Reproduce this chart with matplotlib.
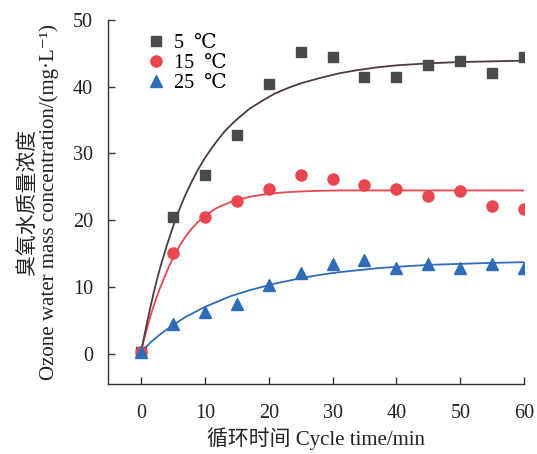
import matplotlib
matplotlib.use("Agg")
import matplotlib.pyplot as plt

plt.rcParams['font.family'] = ['Liberation Serif', 'DejaVu Serif', 'Noto Sans CJK SC']

# measured points
t = [0, 5, 10, 15, 20, 25, 30, 35, 40, 45, 50, 55, 60]
c5 = [0.3, 20.5, 26.7, 32.7, 40.4, 45.2, 44.4, 41.5, 41.5, 43.3, 43.8, 42.0, 44.4]
c15 = [0.3, 15.1, 20.5, 22.9, 24.7, 26.7, 26.2, 25.2, 24.7, 23.6, 24.3, 22.1, 21.7]
c25 = [0.3, 4.4, 6.2, 7.4, 10.3, 12.1, 13.4, 14.0, 12.8, 13.4, 12.8, 13.4, 12.8]

# fitted curves
fit_t = [0, 0.5, 1, 1.5, 2, 2.5, 3, 4, 5, 6, 7, 8, 9, 10, 11, 12, 13, 14, 15, 17, 19, 21,
         23, 25, 28, 31, 34, 37, 40, 45, 50, 55, 60]
fit5 = [0.3, 2.6, 4.9, 7.1, 9.2, 11.1, 12.9, 16.1, 19.0, 21.6, 23.9, 25.9, 27.7, 29.3,
        30.7, 32.0, 33.2, 34.2, 35.1, 36.7, 37.9, 39.0, 39.8, 40.5, 41.3, 42.0, 42.5,
        42.9, 43.2, 43.5, 43.7, 43.8, 43.9]
fit15 = [0.3, 2.2, 4.0, 5.7, 7.2, 8.6, 9.9, 12.2, 14.4, 16.1, 17.6, 18.8, 19.8, 20.6,
         21.3, 21.9, 22.3, 22.7, 23.0, 23.5, 23.8, 24.05, 24.2, 24.3, 24.4, 24.45, 24.45,
         24.45, 24.45, 24.45, 24.45, 24.45, 24.45]
fit25 = [0.3, 0.8, 1.2, 1.7, 2.1, 2.5, 2.9, 3.6, 4.2, 4.9, 5.5, 6.0, 6.5, 7.0, 7.4, 7.8,
         8.2, 8.6, 8.9, 9.5, 10.0, 10.5, 10.9, 11.3, 11.8, 12.2, 12.5, 12.8, 13.0, 13.3,
         13.45, 13.6, 13.7]

labels = ['5  ℃', '15  ℃', '25  ℃']

fig = plt.figure(figsize=(5.37, 4.54), dpi=100)
ax = fig.add_axes([0.202, 0.1535, 0.774, 0.8025])

ax.plot(fit_t, fit15, color='#e8474f', lw=1.3, zorder=2)
ax.plot(fit_t, fit5, color='#4e3b3b', lw=1.3, zorder=2)
ax.plot(fit_t, fit25, color='#2e6cb8', lw=1.3, zorder=2)

ax.plot(t, c5, 's', color='#4a4a4a', ms=7, label=labels[0], zorder=3)
ax.plot(t, c15, 'o', color='#e8474f', ms=8, label=labels[1], zorder=3)
ax.plot(t, c25, '^', color='#2e6cb8', ms=8, label=labels[2], zorder=4)

ax.set_xlim(-5.1, 60)
ax.set_ylim(-4.6, 50)
ax.set_xticks([0, 10, 20, 30, 40, 50, 60])
ax.set_yticks([0, 10, 20, 30, 40, 50])
ax.spines['top'].set_visible(False)
ax.spines['right'].set_visible(False)
for s in ['left', 'bottom']:
    ax.spines[s].set_color('#333333')
    ax.spines[s].set_linewidth(1.0)
ax.tick_params(axis='both', direction='in', length=5, width=1.0, color='#333333',
               labelsize=14.5, labelcolor='#222222')
ax.tick_params(axis='x', pad=14)
ax.tick_params(axis='y', pad=11)

ax.set_xlabel('循环时间 Cycle time/min', fontsize=15, color='#222222', labelpad=3)
ax.set_ylabel('臭氧水质量浓度\nOzone water mass concentration/(mg·L⁻¹)',
              fontsize=15, color='#222222', labelpad=10, linespacing=1.1)

ax.legend(loc='upper left', bbox_to_anchor=(0.09, 0.962), frameon=False, fontsize=14.5,
          handlelength=1.0, handletextpad=0.4, labelspacing=0.05, borderaxespad=0,
          borderpad=0)

fig.savefig('out.png', dpi=100)
